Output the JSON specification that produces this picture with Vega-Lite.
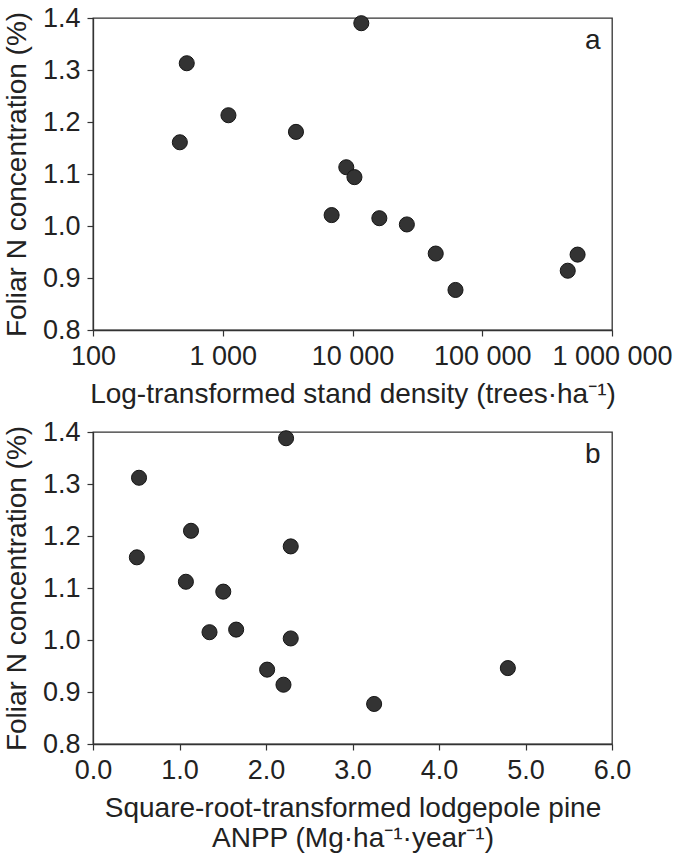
{
  "$schema": "https://vega.github.io/schema/vega-lite/v6.json",
  "background": "white",
  "padding": {"left": 2, "top": 3, "right": 0, "bottom": 0},
  "spacing": 8,
  "datasets": {
    "a": [
      {"density": 467, "n": 1.161},
      {"density": 528, "n": 1.313},
      {"density": 1106, "n": 1.213},
      {"density": 3667, "n": 1.181},
      {"density": 6905, "n": 1.021},
      {"density": 8955, "n": 1.113},
      {"density": 10350, "n": 1.094},
      {"density": 11690, "n": 1.39},
      {"density": 16100, "n": 1.015},
      {"density": 26240, "n": 1.003},
      {"density": 43800, "n": 0.947},
      {"density": 62200, "n": 0.877},
      {"density": 456000, "n": 0.914},
      {"density": 543000, "n": 0.945}
    ],
    "b": [
      {"anpp": 0.507, "n": 1.159},
      {"anpp": 0.532, "n": 1.312},
      {"anpp": 1.074, "n": 1.112},
      {"anpp": 1.133, "n": 1.21},
      {"anpp": 1.506, "n": 1.093},
      {"anpp": 1.347, "n": 1.015},
      {"anpp": 1.655, "n": 1.02},
      {"anpp": 2.232, "n": 1.388},
      {"anpp": 2.286, "n": 1.18},
      {"anpp": 2.286, "n": 1.003},
      {"anpp": 2.013, "n": 0.943},
      {"anpp": 2.202, "n": 0.914},
      {"anpp": 3.25, "n": 0.877},
      {"anpp": 4.796, "n": 0.946}
    ]
  },
  "vconcat": [
    {
      "width": 519,
      "height": 312,
      "layer": [
        {
          "data": {"name": "a"},
          "mark": {"type": "circle", "size": 227, "fill": "#333333", "stroke": "#151515", "strokeWidth": 1, "opacity": 1},
          "encoding": {
            "x": {
              "field": "density", "type": "quantitative",
              "scale": {"type": "log", "domain": [100, 1000000], "nice": false},
              "axis": {
                "title": "Log-transformed stand density (trees·ha⁻¹)",
                "values": [100, 1000, 10000, 100000, 1000000],
                "labelExpr": "replace(format(datum.value, ','), regexp(',', 'g'), ' ')"
              }
            },
            "y": {
              "field": "n", "type": "quantitative",
              "scale": {"domain": [0.8, 1.4], "nice": false, "zero": false},
              "axis": {"title": "Foliar N concentration (%)", "values": [0.8, 0.9, 1.0, 1.1, 1.2, 1.3, 1.4], "format": ".1f"}
            }
          }
        },
        {
          "data": {"values": [{"label": "a"}]},
          "mark": {"type": "text", "align": "right", "baseline": "alphabetic", "fontSize": 28, "font": "Liberation Sans", "color": "#222222"},
          "encoding": {
            "x": {"datum": 818000, "type": "quantitative"},
            "y": {"datum": 1.34, "type": "quantitative"},
            "text": {"field": "label"}
          }
        }
      ]
    },
    {
      "width": 519,
      "height": 312,
      "layer": [
        {
          "data": {"name": "b"},
          "mark": {"type": "circle", "size": 227, "fill": "#333333", "stroke": "#151515", "strokeWidth": 1, "opacity": 1},
          "encoding": {
            "x": {
              "field": "anpp", "type": "quantitative",
              "scale": {"domain": [0, 6], "nice": false},
              "axis": {
                "title": ["Square-root-transformed lodgepole pine", "ANPP (Mg·ha⁻¹·year⁻¹)"],
                "values": [0, 1, 2, 3, 4, 5, 6],
                "format": ".1f"
              }
            },
            "y": {
              "field": "n", "type": "quantitative",
              "scale": {"domain": [0.8, 1.4], "nice": false, "zero": false},
              "axis": {"title": "Foliar N concentration (%)", "values": [0.8, 0.9, 1.0, 1.1, 1.2, 1.3, 1.4], "format": ".1f"}
            }
          }
        },
        {
          "data": {"values": [{"label": "b"}]},
          "mark": {"type": "text", "align": "right", "baseline": "alphabetic", "fontSize": 28, "font": "Liberation Sans", "color": "#222222"},
          "encoding": {
            "x": {"datum": 5.869, "type": "quantitative"},
            "y": {"datum": 1.341, "type": "quantitative"},
            "text": {"field": "label"}
          }
        }
      ]
    }
  ],
  "config": {
    "font": "Liberation Sans",
    "view": {"stroke": "#333333", "strokeWidth": 1.3},
    "axis": {
      "grid": false,
      "domainColor": "#333333",
      "domainWidth": 1.3,
      "tickColor": "#333333",
      "tickSize": 6,
      "tickWidth": 1.2,
      "labelFont": "Liberation Sans",
      "labelFontSize": 27,
      "labelColor": "#222222",
      "labelPadding": 7,
      "labelFlush": false,
      "labelOverlap": false,
      "labelBound": false,
      "titleFont": "Liberation Sans",
      "titleFontSize": 28,
      "titleFontWeight": "normal",
      "titleColor": "#222222",
      "titlePadding": 11,
      "titleLineHeight": 30
    }
  }
}
